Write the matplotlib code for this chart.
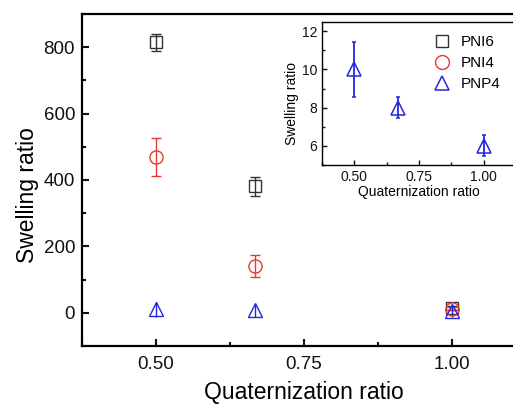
import matplotlib
matplotlib.use("Agg")
import matplotlib.pyplot as plt
from matplotlib.ticker import MultipleLocator

plt.rcParams['font.family'] = ['Liberation Sans', 'DejaVu Sans']

# Quaternization ratio for each sample
q_ratio = [0.5, 0.667, 1.0]

# Swelling ratio (mean, error) per polymer series
pni6 = [815, 381, 15]
pni6_err = [26, 28, 6]
pni4 = [469, 140, 12]
pni4_err = [57, 33, 5]
pnp4 = [10, 8, 6]
pnp4_err = [1.45, 0.56, 0.55]
# Error bars of PNP4 as drawn on the full-scale panel
pnp4_err_main = [22, 20, 20]

BLACK = '#333333'
RED = '#e8392f'
BLUE = '#2525e0'

fig = plt.figure(figsize=(5.13, 4.05), dpi=100)

# Main axes (runs past the right edge of the canvas)
ax = fig.add_axes([82/513, 1 - 346/405, (526 - 82)/513, (346 - 14)/405])
ax.errorbar(q_ratio, pni6, yerr=pni6_err, fmt='s', mfc='none', mec=BLACK,
            ecolor=BLACK, ms=8, mew=1.0, elinewidth=1.0, capsize=3.5)
ax.errorbar(q_ratio, pni4, yerr=pni4_err, fmt='o', mfc='none', mec=RED,
            ecolor=RED, ms=9.5, mew=1.0, elinewidth=1.0, capsize=3.5)
ax.errorbar(q_ratio, pnp4, yerr=pnp4_err_main, fmt='^', mfc='none', mec=BLUE,
            ecolor=BLUE, ms=9.5, mew=1.0, elinewidth=1.0, capsize=0)
ax.set_xlim(0.375, 1.125)
ax.set_ylim(-100, 900)
ax.set_xticks([0.5, 0.75, 1.0])
ax.set_xticklabels(['0.50', '0.75', '1.00'])
ax.xaxis.set_minor_locator(MultipleLocator(0.125))
ax.yaxis.set_major_locator(MultipleLocator(200))
ax.yaxis.set_minor_locator(MultipleLocator(100))
ax.tick_params(which='both', direction='in', width=1.5, labelsize=13.5, colors='#111111')
ax.tick_params(which='major', length=5)
ax.tick_params(which='minor', length=3)
ax.tick_params(axis='x', pad=7)
ax.tick_params(axis='y', pad=5)
for s in ax.spines.values():
    s.set_linewidth(1.6)
ax.set_xlabel('Quaternization ratio', fontsize=16.5, labelpad=6)
ax.set_ylabel('Swelling ratio', fontsize=16.5, labelpad=3)
ax.yaxis.label.set_y(0.455)

# Inset axes: PNP4 detail
axi = fig.add_axes([322/513, 1 - 165/405, (516 - 322)/513, (165 - 21.7)/405])
axi.errorbar(q_ratio, pnp4, yerr=pnp4_err, fmt='^', mfc='none', mec=BLUE,
             ecolor=BLUE, ms=10, mew=1.1, elinewidth=1.3, capsize=1.2)
# Legend handles (markers only)
axi.plot([], [], 's', mfc='none', mec=BLACK, ms=9, mew=1.0, label='PNI6')
axi.plot([], [], 'o', mfc='none', mec=RED, ms=10, mew=1.0, label='PNI4')
axi.plot([], [], '^', mfc='none', mec=BLUE, ms=10, mew=1.1, label='PNP4')
axi.set_xlim(0.375, 1.125)
axi.set_ylim(5, 12.5)
axi.set_xticks([0.5, 0.75, 1.0])
axi.set_xticklabels(['0.50', '0.75', '1.00'])
axi.xaxis.set_minor_locator(MultipleLocator(0.125))
axi.yaxis.set_major_locator(MultipleLocator(2))
axi.yaxis.set_minor_locator(MultipleLocator(1))
axi.tick_params(which='both', direction='in', width=1.0, labelsize=10, colors='#111111')
axi.tick_params(which='major', length=3.5)
axi.tick_params(which='minor', length=2)
for s in axi.spines.values():
    s.set_linewidth(1.0)
axi.set_xlabel('Quaternization ratio', fontsize=10, labelpad=1)
axi.set_ylabel('Swelling ratio', fontsize=10, labelpad=2)
axi.yaxis.label.set_y(0.43)
axi.legend(loc='upper left', bbox_to_anchor=(0.525, 0.97), frameon=False, fontsize=11,
           handletextpad=0.6, labelspacing=0.45, borderaxespad=0.2, handlelength=1.2)

fig.savefig('out.png', dpi=100)
